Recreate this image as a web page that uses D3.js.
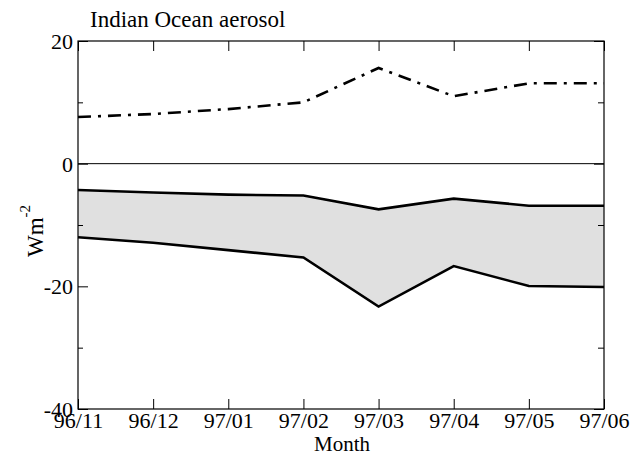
<!DOCTYPE html>
<html>
<head>
<meta charset="utf-8">
<script src="https://cdn.jsdelivr.net/npm/d3@7"></script>
<style>
  body { margin: 0; background: #fff; }
  .domain { display: none; }
</style>
</head>
<body>
<svg id="svg" width="633" height="455"></svg>
<script>
const months = ["96/11", "96/12", "97/01", "97/02", "97/03", "97/04", "97/05", "97/06"];
const toaValues = [7.6, 8.1, 8.9, 10.0, 15.6, 11.0, 13.1, 13.1];
const upperValues = [-4.3, -4.7, -5.05, -5.2, -7.45, -5.7, -6.85, -6.85];
const lowerValues = [-12.0, -12.9, -14.1, -15.3, -23.3, -16.7, -19.95, -20.1];
const majorTicks = [-40, -20, 0, 20];
const minorTicks = [-30, -10, 10];

const serif = "'Times New Roman', 'Liberation Serif', Times, 'DejaVu Serif', serif";

const svg = d3.select("svg#svg");

const margin = { left: 78, right: 29, top: 41, bottom: 46 };
const width = 633 - margin.left - margin.right;
const height = 455 - margin.top - margin.bottom;

const x = d3.scalePoint().domain(months).range([0, width]);
const y = d3.scaleLinear().domain([-40, 20]).range([height, 0]);

const g = svg.append("g")
  .attr("transform", "translate(" + margin.left + "," + margin.top + ")");

const rows = months.map(function(m, i) {
  return { m: m, toa: toaValues[i], hi: upperValues[i], lo: lowerValues[i] };
});

// shaded band between the two surface curves
g.append("path")
  .datum(rows)
  .attr("fill", "#e0e0e0")
  .attr("d", d3.area().x(d => x(d.m)).y0(d => y(d.lo)).y1(d => y(d.hi)));

// zero line
g.append("line")
  .attr("x1", 0).attr("x2", width)
  .attr("y1", y(0)).attr("y2", y(0))
  .attr("stroke", "#000").attr("stroke-width", 1);

const line = key => d3.line().x(d => x(d.m)).y(d => y(d[key]));

g.append("path").datum(rows)
  .attr("fill", "none").attr("stroke", "#000").attr("stroke-width", 2.6)
  .attr("d", line("hi"));

g.append("path").datum(rows)
  .attr("fill", "none").attr("stroke", "#000").attr("stroke-width", 2.6)
  .attr("d", line("lo"));

g.append("path").datum(rows)
  .attr("fill", "none").attr("stroke", "#000").attr("stroke-width", 2.6)
  .attr("stroke-dasharray", "13,7,3,7")
  .attr("d", line("toa"));

// axes
const xb = g.append("g").attr("transform", "translate(0," + height + ")")
  .call(d3.axisBottom(x).tickSize(-10));
xb.attr("font-family", serif);
xb.selectAll("text").attr("font-size", 22).attr("y", 19).attr("dy", null);

g.append("g")
  .call(d3.axisTop(x).tickSize(-10).tickFormat(""));

const yl = g.append("g")
  .call(d3.axisLeft(y).tickValues(majorTicks).tickSize(-10).tickFormat(d => String(d)));
yl.attr("font-family", serif);
yl.selectAll("text").attr("font-size", 22).attr("x", -5).attr("dy", "0.34em");

g.append("g")
  .call(d3.axisLeft(y).tickValues(minorTicks).tickSize(-5).tickFormat(""));

g.append("g").attr("transform", "translate(" + width + ",0)")
  .call(d3.axisRight(y).tickValues(majorTicks).tickSize(-10).tickFormat(""));
g.append("g").attr("transform", "translate(" + width + ",0)")
  .call(d3.axisRight(y).tickValues(minorTicks).tickSize(-6).tickFormat(""));

g.selectAll(".tick line").attr("stroke", "#000");

// frame
g.append("rect")
  .attr("width", width).attr("height", height)
  .attr("fill", "none").attr("stroke", "#000").attr("stroke-width", 1.2);

// labels
svg.append("text")
  .attr("x", 90).attr("y", 27)
  .attr("font-family", serif)
  .attr("font-size", 23)
  .text("Indian Ocean aerosol");

svg.append("text")
  .attr("x", margin.left + width / 2 + 1).attr("y", 451)
  .attr("text-anchor", "middle")
  .attr("font-family", serif)
  .attr("font-size", 21)
  .text("Month");

const ylab = svg.append("text")
  .attr("transform", "translate(43,231) rotate(-90)")
  .attr("text-anchor", "middle")
  .attr("font-family", serif)
  .attr("font-size", 23);
ylab.append("tspan").text("Wm");
ylab.append("tspan").attr("font-size", 15).attr("dy", "-0.9em").text("-2");
</script>
</body>
</html>
